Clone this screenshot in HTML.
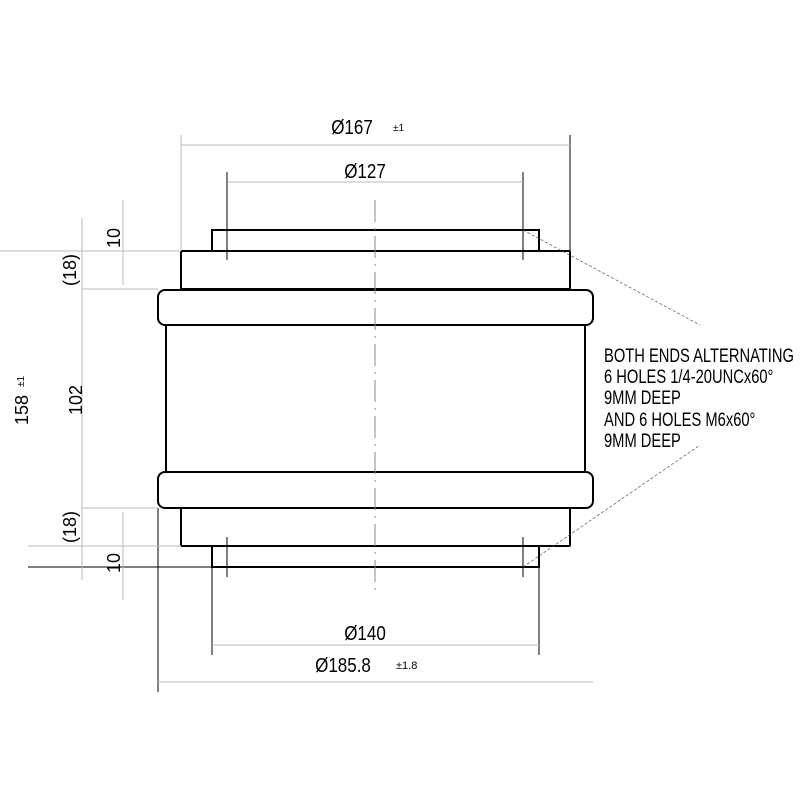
<!DOCTYPE html>
<html><head><style>body{margin:0;background:#fff}svg{display:block}</style></head><body>
<svg width="800" height="800" viewBox="0 0 800 800" xmlns="http://www.w3.org/2000/svg" font-family="Liberation Sans, sans-serif">
<g fill="none" stroke="#000" stroke-width="2">
<rect x="212" y="230" width="327" height="21"/>
<rect x="181" y="251" width="389" height="38" rx="1"/>
<rect x="158" y="290" width="435" height="35" rx="7"/>
<line x1="166" y1="325" x2="166" y2="472"/>
<line x1="585" y1="325" x2="585" y2="472"/>
<rect x="158" y="472" width="435" height="36" rx="7"/>
<rect x="181" y="508" width="389" height="38" rx="1"/>
<rect x="212" y="546" width="327" height="21"/>
</g>
<g stroke="#888" stroke-width="1" stroke-dasharray="22,6,2,6">
<line x1="375" y1="200" x2="375" y2="595"/>
</g>
<g stroke="#000" stroke-width="1">
<line x1="227" y1="172" x2="227" y2="260"/>
<line x1="523" y1="172" x2="523" y2="260"/>
<line x1="227" y1="537" x2="227" y2="577"/>
<line x1="523" y1="537" x2="523" y2="577"/>
<line x1="570" y1="135" x2="570" y2="251"/>
<line x1="212" y1="567" x2="212" y2="655"/>
<line x1="539" y1="567" x2="539" y2="655"/>
<line x1="158" y1="508" x2="158" y2="692"/>
<line x1="28" y1="567" x2="212" y2="567"/>
</g>
<g stroke="#bbb" stroke-width="1">
<line x1="181" y1="135" x2="181" y2="251"/>
<line x1="181" y1="145" x2="570" y2="145"/>
<line x1="228" y1="182" x2="523" y2="182"/>
<line x1="212" y1="645" x2="539" y2="645"/>
<line x1="158" y1="682" x2="593" y2="682"/>
<line x1="82" y1="218" x2="82" y2="580"/>
<line x1="123" y1="200" x2="123" y2="285"/>
<line x1="123" y1="512" x2="123" y2="600"/>
<line x1="82" y1="251" x2="181" y2="251"/>
<line x1="82" y1="289" x2="158" y2="289"/>
<line x1="82" y1="508" x2="158" y2="508"/>
<line x1="28" y1="546" x2="181" y2="546"/>
<line x1="0" y1="251" x2="82" y2="251"/>
</g>
<g stroke="#555" stroke-width="0.7" stroke-dasharray="3,2">
<line x1="523" y1="230" x2="700" y2="325"/>
<line x1="523" y1="567" x2="700" y2="445"/>
</g>
<g font-size="20" fill="#000">
<text x="352" y="134" text-anchor="middle" transform="translate(352,0) scale(0.85,1) translate(-352,0)">Ø167</text>
<text x="393" y="131" font-size="10">±1</text>
<text x="365" y="178" text-anchor="middle" transform="translate(365,0) scale(0.85,1) translate(-365,0)">Ø127</text>
<text x="365" y="640" text-anchor="middle" transform="translate(365,0) scale(0.85,1) translate(-365,0)">Ø140</text>
<text x="343" y="672" text-anchor="middle" transform="translate(343,0) scale(0.85,1) translate(-343,0)">Ø185.8</text>
<text x="396" y="669" font-size="11">±1.8</text>
<text transform="translate(120,238) rotate(-90)" text-anchor="middle" font-size="18">10</text>
<text transform="translate(120,563) rotate(-90)" text-anchor="middle" font-size="18">10</text>
<text transform="translate(76,270) rotate(-90)" text-anchor="middle" font-size="18">(18)</text>
<text transform="translate(76,527) rotate(-90)" text-anchor="middle" font-size="18">(18)</text>
<text transform="translate(82,400) rotate(-90)" text-anchor="middle" font-size="18">102</text>
<text transform="translate(28,410) rotate(-90)" text-anchor="middle" font-size="18">158</text>
<text transform="translate(24,387) rotate(-90)" font-size="10">±1</text>
</g>
<g font-size="19" fill="#000" transform="translate(604,0) scale(0.775,1)">
<text x="0" y="362">BOTH ENDS ALTERNATING</text>
<text x="0" y="383">6 HOLES 1/4-20UNCx60°</text>
<text x="0" y="404">9MM DEEP</text>
<text x="0" y="426">AND 6 HOLES M6x60°</text>
<text x="0" y="447">9MM DEEP</text>
</g>
</svg>
</body></html>
